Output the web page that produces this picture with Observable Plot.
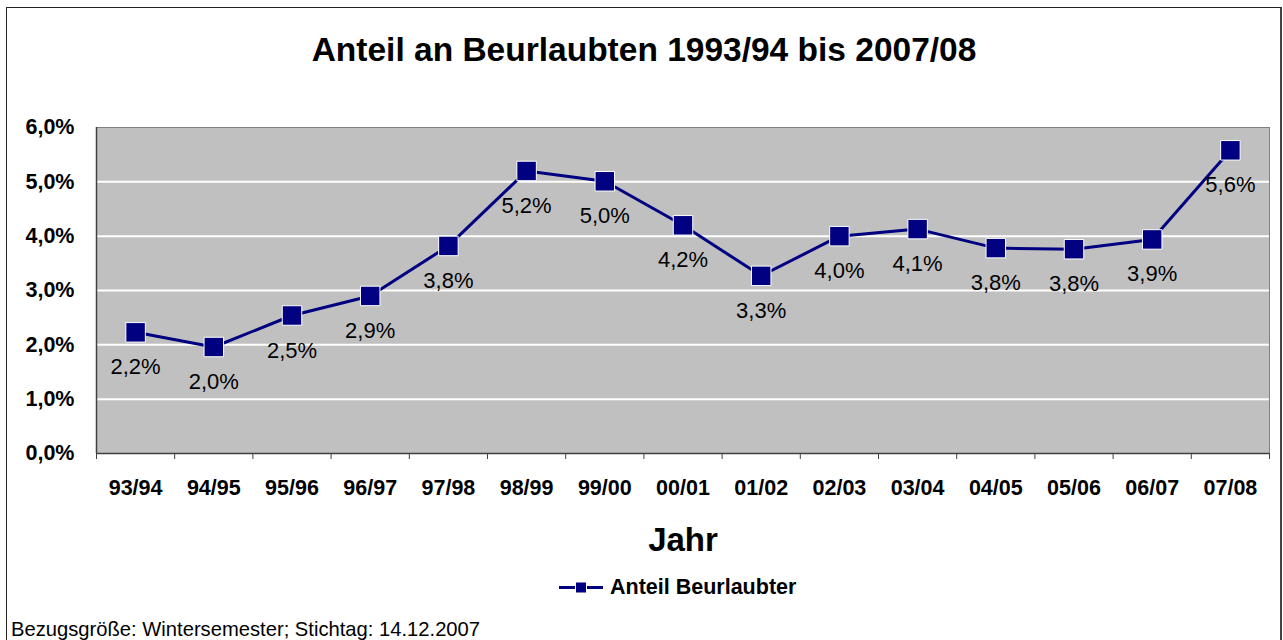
<!DOCTYPE html>
<html>
<head>
<meta charset="utf-8">
<script src="https://cdn.jsdelivr.net/npm/d3@7"></script>
<script src="https://cdn.jsdelivr.net/npm/@observablehq/plot@0.6"></script>
<style>
  body { margin: 0; background: #fff; font-family: "Liberation Sans", Arial, sans-serif; }
  #wrap { position: relative; width: 1283px; height: 640px; overflow: hidden; }
  #chart { position: absolute; left: 0; top: 0; }
  #box { position: absolute; left: 6px; top: 7px; width: 1273px; height: 720px; border: 1px solid #222; border-right: 2px solid #444; pointer-events: none; }
  #title { position: absolute; left: 6px; width: 1276px; top: 33px; text-align: center; font-weight: bold; font-size: 33.5px; line-height: 34px; color: #000; }
  #legend { position: absolute; left: 559px; top: 576px; display: flex; align-items: center; font-weight: bold; font-size: 21.5px; line-height: 22px; color: #000; }
  #legend svg { margin-right: 7px; }
  #caption { position: absolute; left: 11px; top: 619px; font-size: 20.2px; line-height: 20px; color: #000; white-space: nowrap; }
</style>
</head>
<body>
<div id="wrap">
  <div id="chart"></div>
  <div id="title">Anteil an Beurlaubten 1993/94 bis 2007/08</div>
  <div id="legend"><svg width="44" height="14" viewBox="0 0 44 14"><line x1="0" y1="7.5" x2="44" y2="7.5" stroke="#000080" stroke-width="3"/><rect x="16.5" y="2" width="11" height="11" fill="#000080" stroke="white" stroke-width="1"/></svg><span>Anteil Beurlaubter</span></div>
  <div id="caption">Bezugsgröße: Wintersemester; Stichtag: 14.12.2007</div>
  <div id="box"></div>
</div>
<script>
// ---- data ----
const years = ["93/94", "94/95", "95/96", "96/97", "97/98", "98/99", "99/00", "00/01", "01/02", "02/03", "03/04", "04/05", "05/06", "06/07", "07/08"];
const shares = [2.23, 1.96, 2.54, 2.90, 3.82, 5.20, 5.01, 4.20, 3.27, 4.00, 4.13, 3.78, 3.76, 3.94, 5.58];
const yTicks = [0, 1, 2, 3, 4, 5, 6];
const gridTicks = [1, 2, 3, 4, 5];
const seriesName = "Anteil Beurlaubter";
const xTitle = "Jahr";

const data = years.map((year, i) => ({i, year, v: shares[i]}));
const fmt = v => v.toFixed(1).replace(".", ",") + "%";
const idx = d3.range(years.length);
const bounds = d3.range(years.length + 1).map(k => k - 0.5);

const chart = Plot.plot({
  width: 1283,
  height: 640,
  marginLeft: 96,
  marginRight: 14,
  marginTop: 127,
  marginBottom: 187,
  style: {fontFamily: '"Liberation Sans", Arial, sans-serif', background: "transparent", overflow: "visible", color: "black"},
  x: {type: "linear", domain: [-0.5, years.length - 0.5]},
  y: {domain: [0, 6]},
  marks: [
    Plot.frame({fill: "#c0c0c0"}),
    Plot.gridY({ticks: gridTicks, stroke: "white", strokeOpacity: 1, strokeWidth: 2}),
    Plot.frame({stroke: "#808080"}),
    Plot.ruleY([0], {stroke: "#404040", strokeWidth: 1.5}),
    Plot.ruleX([-0.5], {stroke: "#404040", strokeWidth: 1.5}),
    Plot.axisX({ticks: bounds, tickSize: 6, tickFormat: () => "", stroke: "#404040", strokeOpacity: 1, label: null}),
    Plot.axisX({ticks: idx, tickSize: 0, tickPadding: 26, tickFormat: i => years[i], fontSize: 21.5, fontWeight: "bold", fill: "black", label: null}),
    Plot.axisX({ticks: [], tickSize: 0, label: xTitle, labelAnchor: "center", labelArrow: "none", labelOffset: 97, fontSize: 33, fontWeight: "bold", fill: "black"}),
    Plot.axisY({ticks: yTicks, tickSize: 0, tickPadding: 22, tickFormat: fmt, fontSize: 21.5, fontWeight: "bold", fill: "black", label: null}),
    Plot.line(data, {x: "i", y: "v", stroke: "#000080", strokeWidth: 3}),
    Plot.dot(data, {x: "i", y: "v", symbol: "square", r: 11, fill: "#000080", stroke: "white", strokeWidth: 1, title: d => `${d.year}: ${fmt(d.v)}`}),
    Plot.text(data, {x: "i", y: "v", text: d => fmt(d.v), dy: 35, fontSize: 22, fill: "black"})
  ]
});
document.getElementById("chart").appendChild(chart);
</script>
</body>
</html>
